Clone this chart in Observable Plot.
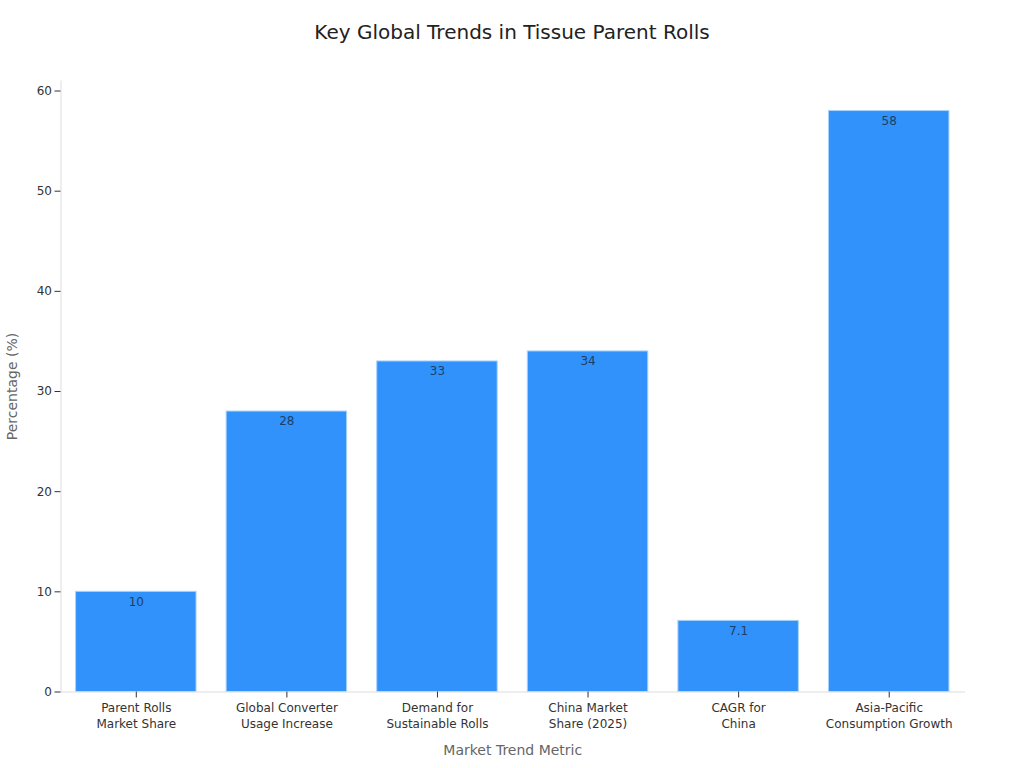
<!DOCTYPE html>
<html>
<head>
<meta charset="utf-8">
<script src="https://cdn.jsdelivr.net/npm/d3@7"></script>
<script src="https://cdn.jsdelivr.net/npm/@observablehq/plot@0.6"></script>
<style>
html,body{margin:0;padding:0;background:#fff;overflow:hidden}
#title{height:60px;box-sizing:border-box;padding-top:20px;text-align:center;font:20px/25px "DejaVu Sans",sans-serif;color:#222}
svg{display:block}
</style>
</head>
<body>
<div id="title">Key Global Trends in Tissue Parent Rolls</div>
<script>
const categories = ["Parent Rolls\nMarket Share","Global Converter\nUsage Increase","Demand for\nSustainable Rolls","China Market\nShare (2025)","CAGR for\nChina","Asia-Pacific\nConsumption Growth"];
const values = [10,28,33,34,7.1,58];
const valueLabels = ["10","28","33","34","7.1","58"];
const yTicks = [0,10,20,30,40,50,60];
const rows = categories.map((c,i)=>({c,v:values[i],l:valueLabels[i]}));
const chart = Plot.plot({
  width:1024,height:708,
  marginTop:20.5,marginBottom:76.5,marginLeft:60.5,marginRight:60,
  style:{fontFamily:"'DejaVu Sans',sans-serif",background:"#fff"},
  x:{domain:categories,paddingInner:0.2,paddingOuter:0.1,align:0.5,round:false,label:null},
  y:{domain:[0,61],label:null},
  marks:[
    Plot.barY(rows,{x:"c",y:"v",fill:"#3092fa",stroke:"#a9d2fb",strokeWidth:1}),
    Plot.text(rows,{x:"c",y:"v",text:"l",dy:10,fontSize:12,fill:"#1f3f66"}),
    Plot.frame({anchor:"left",stroke:"#dddddd"}),
    Plot.frame({anchor:"bottom",stroke:"#dddddd"}),
    Plot.axisY({ticks:yTicks,tickSize:6,tickPadding:3,fontSize:12,color:"#333",label:null}),
    Plot.axisX({tickSize:6,tickPadding:3,fontSize:12,color:"#333",label:null,lineHeight:1.33}),
    Plot.text(["Market Trend Metric"],{frameAnchor:"bottom",dy:63,fontSize:14,fill:"#666"}),
    Plot.text(["Percentage (%)"],{frameAnchor:"left",textAnchor:"middle",rotate:-90,dx:-48.5,fontSize:14,fill:"#666"})
  ]
});
document.body.appendChild(chart);
</script>
</body>
</html>
